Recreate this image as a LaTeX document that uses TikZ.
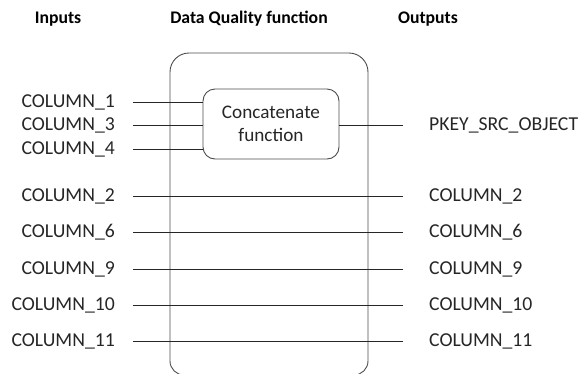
\documentclass[tikz,border=0pt]{standalone}
\usepackage{fontspec}
\setmainfont{Carlito}
\begin{document}
\begin{tikzpicture}[x=1pt,y=-1pt,
  lbl/.style={font=\fontsize{19.7}{22}\selectfont, inner sep=0pt, text=black!85},
  hdr/.style={font=\fontsize{17.7}{20}\selectfont\bfseries, inner sep=0pt},
  wire/.style={draw=black!85, line width=0.8pt},
  box/.style={draw=black!70, line width=0.9pt, rounded corners=14pt}]
\useasboundingbox (0,0) rectangle (582,373);
\node[hdr] (hin) at (58,19) {Inputs};
\node[hdr] (hdq) at (249,19) {Data Quality function};
\node[hdr] (hout) at (428,19) {Outputs};
\draw[box] (170,200) [rounded corners=19pt] -- (170,53) -- (368,53) -- (368,200)
  [rounded corners=14pt] -- (368,375) -- (170,375) -- cycle;
\node[box, rounded corners=12pt, minimum width=136pt, minimum height=70pt, align=center,
  font=\fontsize{19.2}{23}\selectfont, text=black!85] (cat) at (271,124) {Concatenate\\function};
% concat inputs
\foreach \n/\y in {1/102,3/125,4/149} {
  \node[lbl, anchor=east] (in\n) at (115,\y) {COLUMN\_\n};
  \coordinate (s\n) at (133,\y);
  \draw[wire] (s\n) -- (s\n -| cat.west);
}
\node[lbl, anchor=west] (pk) at (429,125) {PKEY\_SRC\_OBJECT};
\coordinate (pe) at (403,125);
\draw[wire] (cat.east |- pe) -- (pe);
% pass-through
\foreach \n/\y in {2/196,6/232,9/269,10/305,11/341} {
  \node[lbl, anchor=east] (li\n) at (115,\y) {COLUMN\_\n};
  \node[lbl, anchor=west] (ro\n) at (429,\y) {COLUMN\_\n};
  \coordinate (a\n) at (133,\y);
  \coordinate (b\n) at (403,\y);
  \draw[wire] (a\n) -- (b\n);
}
\end{tikzpicture}
\end{document}
